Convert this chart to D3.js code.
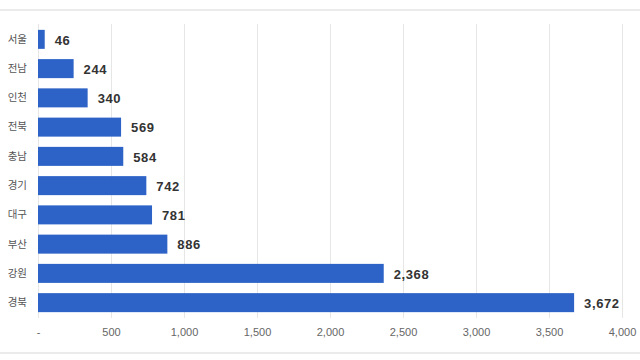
<!DOCTYPE html>
<html>
<head>
<meta charset="utf-8">
<script src="https://cdn.jsdelivr.net/npm/d3@7"></script>
<style>
  body { margin: 0; background: #fff; }
  svg { display: block; }
</style>
</head>
<body>
<div id="chart"></div>
<script>
// 지역별 값
const regions = ['서울', '전남', '인천', '전북', '충남', '경기', '대구', '부산', '강원', '경북'];
const counts = [46, 244, 340, 569, 584, 742, 781, 886, 2368, 3672];
const xTicks = [0, 500, 1000, 1500, 2000, 2500, 3000, 3500, 4000];

const width = 640, height = 360;
const svg = d3.select('#chart')
    .append('svg')
    .attr('width', width)
    .attr('height', height);

// 위/아래 테두리
svg.append('rect').attr('x', 0).attr('y', 9).attr('width', width).attr('height', 2).attr('fill', '#ebebeb');
svg.append('rect').attr('x', 0).attr('y', 352).attr('width', width).attr('height', 2).attr('fill', '#ebebeb');

const x = d3.scaleLinear().domain([0, 4000]).range([38, 622]);
const y = d3.scaleBand().domain(regions).range([24, 318]).paddingInner(0.35).paddingOuter(0.2);

// 세로 격자선
svg.append('g')
    .selectAll('line')
    .data(xTicks)
    .join('line')
    .attr('x1', d => x(d) + 0.5)
    .attr('x2', d => x(d) + 0.5)
    .attr('y1', 24)
    .attr('y2', 318)
    .attr('stroke', '#e6e6e6')
    .attr('stroke-width', 1);

// x축 라벨
const xAxis = d3.axisBottom(x)
    .tickValues(xTicks)
    .tickSize(0)
    .tickPadding(0)
    .tickFormat(d => d === 0 ? '-' : d3.format(',')(d));

const gx = svg.append('g').attr('transform', 'translate(0,328)').call(xAxis);
gx.select('.domain').remove();
gx.selectAll('text')
    .attr('dy', '0.71em')
    .attr('fill', '#666')
    .style('font-family', 'Liberation Sans, Arial, sans-serif')
    .style('font-size', '11px');

// y축 라벨
const yAxis = d3.axisLeft(y).tickSize(0).tickPadding(0);
const gy = svg.append('g').attr('transform', 'translate(27,0)').call(yAxis);
gy.select('.domain').remove();
gy.selectAll('text')
    .attr('fill', '#555')
    .style('font-family', 'Noto Sans CJK KR, sans-serif')
    .style('font-size', '10.5px');

const data = regions.map((r, i) => ({ region: r, value: counts[i] }));

// 막대
svg.append('g')
    .selectAll('rect')
    .data(data)
    .join('rect')
    .attr('x', x(0))
    .attr('y', d => y(d.region))
    .attr('width', d => x(d.value) - x(0))
    .attr('height', y.bandwidth())
    .attr('fill', '#2d63c6');

// 값 라벨
svg.append('g')
    .selectAll('text')
    .data(data)
    .join('text')
    .attr('x', d => x(d.value) + 10)
    .attr('y', d => y(d.region) + y.bandwidth() / 2)
    .attr('dy', '0.4em')
    .attr('fill', '#333')
    .style('font-family', 'Liberation Sans, Arial, sans-serif')
    .style('font-size', '13px')
    .style('font-weight', 'bold')
    .style('letter-spacing', '0.6px')
    .text(d => d3.format(',')(d.value));
</script>
</body>
</html>
